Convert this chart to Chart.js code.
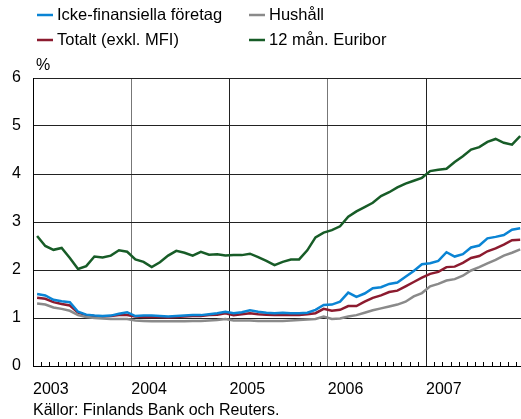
<!DOCTYPE html>
<html>
<head>
<meta charset="utf-8">
<script src="https://cdn.jsdelivr.net/npm/chart.js@4"></script>
<style>
  html, body { margin: 0; padding: 0; background: #fff; overflow: hidden; }
  #wrap { width: 521px; height: 419px; }
</style>
</head>
<body>
<div id="wrap"><canvas id="myChart" width="521" height="419"></canvas></div>
<script>
// monthly data, jan 2003 - dec 2007
const years = ["2003", "2004", "2005", "2006", "2007"];

const foretag = [
  1.50, 1.47, 1.38, 1.35, 1.33, 1.13, 1.07, 1.05, 1.04, 1.05, 1.09, 1.12,
  1.04, 1.05, 1.05, 1.04, 1.03, 1.04, 1.05, 1.06, 1.06, 1.08, 1.10, 1.13,
  1.10, 1.12, 1.16, 1.13, 1.11, 1.10, 1.11, 1.10, 1.10, 1.11, 1.17, 1.27,
  1.28, 1.34, 1.53, 1.44, 1.51, 1.62, 1.64, 1.71, 1.74, 1.86, 1.98, 2.12,
  2.14, 2.19, 2.37, 2.28, 2.33, 2.47, 2.51, 2.66, 2.69, 2.73, 2.84, 2.87
];

const hushall = [
  1.30, 1.28, 1.22, 1.19, 1.15, 1.06, 1.02, 1.00, 0.99, 0.98, 0.98, 0.98,
  0.95, 0.94, 0.93, 0.93, 0.93, 0.93, 0.93, 0.94, 0.94, 0.95, 0.96, 0.98,
  0.95, 0.95, 0.95, 0.94, 0.94, 0.94, 0.94, 0.95, 0.96, 0.97, 0.98, 1.03,
  0.98, 0.99, 1.03, 1.06, 1.11, 1.16, 1.20, 1.24, 1.28, 1.34, 1.45, 1.52,
  1.66, 1.71, 1.78, 1.81, 1.88, 1.99, 2.06, 2.14, 2.21, 2.30, 2.36, 2.43
];

const totalt = [
  1.42, 1.40, 1.33, 1.29, 1.26, 1.11, 1.06, 1.04, 1.03, 1.04, 1.06, 1.06,
  1.03, 1.02, 1.02, 1.02, 1.01, 1.02, 1.03, 1.04, 1.04, 1.06, 1.07, 1.10,
  1.06, 1.08, 1.10, 1.08, 1.07, 1.06, 1.06, 1.06, 1.06, 1.08, 1.10, 1.19,
  1.15, 1.17, 1.25, 1.25, 1.34, 1.42, 1.47, 1.54, 1.57, 1.66, 1.75, 1.84,
  1.92, 1.96, 2.06, 2.07, 2.15, 2.25, 2.29, 2.39, 2.45, 2.53, 2.62, 2.63
];

const euribor = [
  2.71, 2.50, 2.42, 2.46, 2.25, 2.02, 2.08, 2.28, 2.26, 2.30, 2.41, 2.38,
  2.22, 2.17, 2.06, 2.16, 2.30, 2.40, 2.36, 2.30, 2.38, 2.32, 2.33, 2.30,
  2.31, 2.31, 2.34, 2.27, 2.19, 2.10, 2.17, 2.22, 2.22, 2.41, 2.68, 2.78,
  2.83, 2.91, 3.11, 3.22, 3.31, 3.40, 3.54, 3.62, 3.72, 3.80, 3.86, 3.92,
  4.06, 4.09, 4.11, 4.25, 4.37, 4.51, 4.56, 4.67, 4.73, 4.65, 4.61, 4.79
];

const FONT = '"Liberation Sans", Arial, sans-serif';

// points sit in the middle of each month
const pts = (arr) => arr.map((v, i) => ({ x: i + 0.5, y: v }));

const line = (label, arr, color) => ({
  label: label,
  data: pts(arr),
  borderColor: color,
  borderWidth: 2.5,
  pointRadius: 0,
  tension: 0,
  fill: false,
});

const extras = {
  id: "extras",
  afterDraw(chart) {
    const c = chart.ctx;
    const xs = chart.scales.x;
    const ys = chart.scales.y;
    c.save();

    // month tick marks on the zero line
    c.strokeStyle = "#000";
    c.lineWidth = 1;
    for (let m = 1; m < 60; m++) {
      if (m % 12 === 0) continue;
      const px = Math.round(xs.getPixelForValue(m)) + 0.5;
      c.beginPath();
      c.moveTo(px, ys.bottom);
      c.lineTo(px, ys.bottom - 4);
      c.stroke();
    }

    c.fillStyle = "#000";
    c.textBaseline = "middle";
    c.textAlign = "left";

    // legend, two columns
    c.font = "16.5px " + FONT;
    const slots = [[37, 15], [249, 15], [37, 40], [249, 40]];
    chart.data.datasets.forEach((ds, i) => {
      const [lx, ly] = slots[i];
      c.strokeStyle = ds.borderColor;
      c.lineWidth = 2.5;
      c.beginPath();
      c.moveTo(lx, ly);
      c.lineTo(lx + 16, ly);
      c.stroke();
      c.fillText(ds.label, lx + 20, ly);
    });

    c.font = "16px " + FONT;
    c.fillText("%", 36, 66);
    c.fillText("Källor: Finlands Bank och Reuters.", 33, 411);
    c.restore();
  },
};

new Chart(document.getElementById("myChart"), {
  type: "line",
  data: {
    datasets: [
      line("Icke-finansiella företag", foretag, "#0a84d4"),
      line("Hushåll", hushall, "#8a8a8a"),
      line("Totalt (exkl. MFI)", totalt, "#8c1b2f"),
      line("12 mån. Euribor", euribor, "#175c27"),
    ],
  },
  options: {
    responsive: false,
    animation: false,
    devicePixelRatio: 1,
    layout: { padding: { top: 78, right: 0, bottom: 0, left: 0 } },
    plugins: {
      legend: { display: false },
      tooltip: { enabled: false },
    },
    scales: {
      x: {
        type: "linear",
        min: 0,
        max: 59.6,
        afterFit(s) {
          s.height = 53;
          s.paddingLeft = 0;
          s.paddingRight = 0;
        },
        afterBuildTicks(s) {
          s.ticks = [0, 12, 24, 36, 48].map((v) => ({ value: v }));
        },
        ticks: {
          autoSkip: false,
          maxRotation: 0,
          align: "start",
          padding: 14,
          color: "#000",
          font: { size: 16, family: FONT },
          callback: (v) => years[v / 12],
        },
        grid: {
          drawTicks: false,
          lineWidth: 1,
          color: (ctx) => (ctx.tick && (ctx.tick.value === 12 || ctx.tick.value === 36) ? "#777" : "#222"),
        },
        border: { color: "#000" },
      },
      y: {
        min: 0,
        max: 6,
        afterFit(s) { s.width = 33; },
        ticks: {
          stepSize: 1,
          padding: 12,
          color: "#000",
          font: { size: 16, family: FONT },
        },
        grid: { drawTicks: false, color: "#222" },
        border: { color: "#000" },
      },
    },
  },
  plugins: [extras],
});
</script>
</body>
</html>
